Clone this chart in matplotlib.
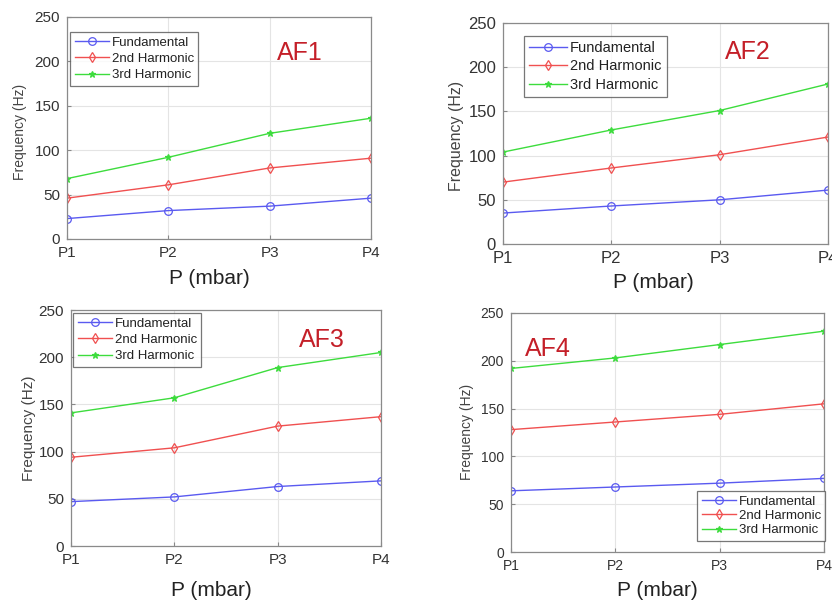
#Four frequency panels (AF1-AF4) for the three harmonics against pressure.

import numpy as np
import matplotlib.pyplot as plt

#Data
pressures = ["P1", "P2", "P3", "P4"]
series_names = ["Fundamental", "2nd Harmonic", "3rd Harmonic"]

af1_fund = [23, 32, 37, 46]
af1_2nd = [46, 61, 80, 91]
af1_3rd = [68, 92, 119, 136]

af2_fund = [35, 43, 50, 61]
af2_2nd = [70, 86, 101, 121]
af2_3rd = [104, 129, 151, 181]

af3_fund = [47, 52, 63, 69]
af3_2nd = [94, 104, 127, 137]
af3_3rd = [141, 157, 189, 205]

af4_fund = [64, 68, 72, 77]
af4_2nd = [128, 136, 144, 155]
af4_3rd = [192, 203, 217, 231]

panel_names = ["AF1", "AF2", "AF3", "AF4"]

W, H = 832, 601
fig = plt.figure(figsize=(W / 100, H / 100), dpi=100)
plt.rcParams['font.family'] = ['Liberation Sans', 'DejaVu Sans']

colors = ["#5a5af0", "#f05050", "#3ddc3d"]
markers = ["o", "d", "*"]

#pixel boxes: left, right, top, bottom of each axes
boxes = [(67, 371, 17, 239), (503, 828, 23, 244),
         (71, 381, 310, 546), (511, 824, 313, 552)]
#legend upper-left corner in pixels, font size, row spacing
legend_pos = [(70, 32, 9.5, 0.3), (524, 36, 10.5, 0.3),
              (73, 313, 9.5, 0.3), (697, 491, 9.5, 0.15)]
#panel name centre in pixels
name_pos = [(300, 53), (748, 52), (322, 340), (548, 349)]
#x label centre, y label centre, label sizes
xlab_pos = [(209, 279, 15), (653, 283, 15), (211, 590, 15), (657, 590, 15)]
ylab_pos = [(20, 132, 10), (456, 136, 11.5), (29, 428, 11), (467, 432, 10)]
tick_size = [11, 12, 11, 10]

all_data = [
    [af1_fund, af1_2nd, af1_3rd],
    [af2_fund, af2_2nd, af2_3rd],
    [af3_fund, af3_2nd, af3_3rd],
    [af4_fund, af4_2nd, af4_3rd],
]

x = np.arange(len(pressures))

for i in range(4):
    l, r, t, b = boxes[i]
    ax = fig.add_axes([l / W, 1 - b / H, (r - l) / W, (b - t) / H])
    for j in range(3):
        if markers[j] == "*":
            ms, mfc = 4.5, colors[j]
        else:
            ms, mfc = 5.5, "none"
        ax.plot(x, all_data[i][j], color=colors[j], marker=markers[j],
                markersize=ms, markerfacecolor=mfc, markeredgewidth=0.9,
                linewidth=1.0, label=series_names[j])
    ax.set_xlim(0, 3)
    ax.set_ylim(0, 250)
    ax.set_xticks(x)
    ax.set_xticklabels(pressures)
    ax.set_yticks(np.arange(0, 251, 50))
    ax.grid(True, color="#e4e4e4", linewidth=0.8)
    ax.set_axisbelow(True)
    ax.tick_params(direction="in", length=3, colors="#888888",
                   labelcolor="#333333", labelsize=tick_size[i], pad=5)
    for s in ax.spines.values():
        s.set_color("#8a8a8a")
        s.set_linewidth(0.9)

    lx, ly, lfs, lsp = legend_pos[i]
    leg = ax.legend(loc="upper left", bbox_to_anchor=(lx / W, 1 - ly / H),
                    bbox_transform=fig.transFigure, fontsize=lfs,
                    frameon=True, fancybox=False, handlelength=2.6,
                    borderpad=0.35, labelspacing=lsp, handletextpad=0.2,
                    borderaxespad=0)
    leg.get_frame().set_edgecolor("#555555")
    leg.get_frame().set_linewidth(0.9)
    for txt in leg.get_texts():
        txt.set_color("#222222")

    nx, ny = name_pos[i]
    fig.text(nx / W, 1 - ny / H, panel_names[i], color="#c41f28",
             fontsize=18, ha="center", va="center")

    xx, xy, xs = xlab_pos[i]
    fig.text(xx / W, 1 - xy / H, "P (mbar)", color="#222222",
             fontsize=xs, ha="center", va="center")
    yx, yy, ys = ylab_pos[i]
    fig.text(yx / W, 1 - yy / H, "Frequency (Hz)", color="#444444",
             fontsize=ys, ha="center", va="center", rotation=90)

fig.savefig("out.png", dpi=100)
